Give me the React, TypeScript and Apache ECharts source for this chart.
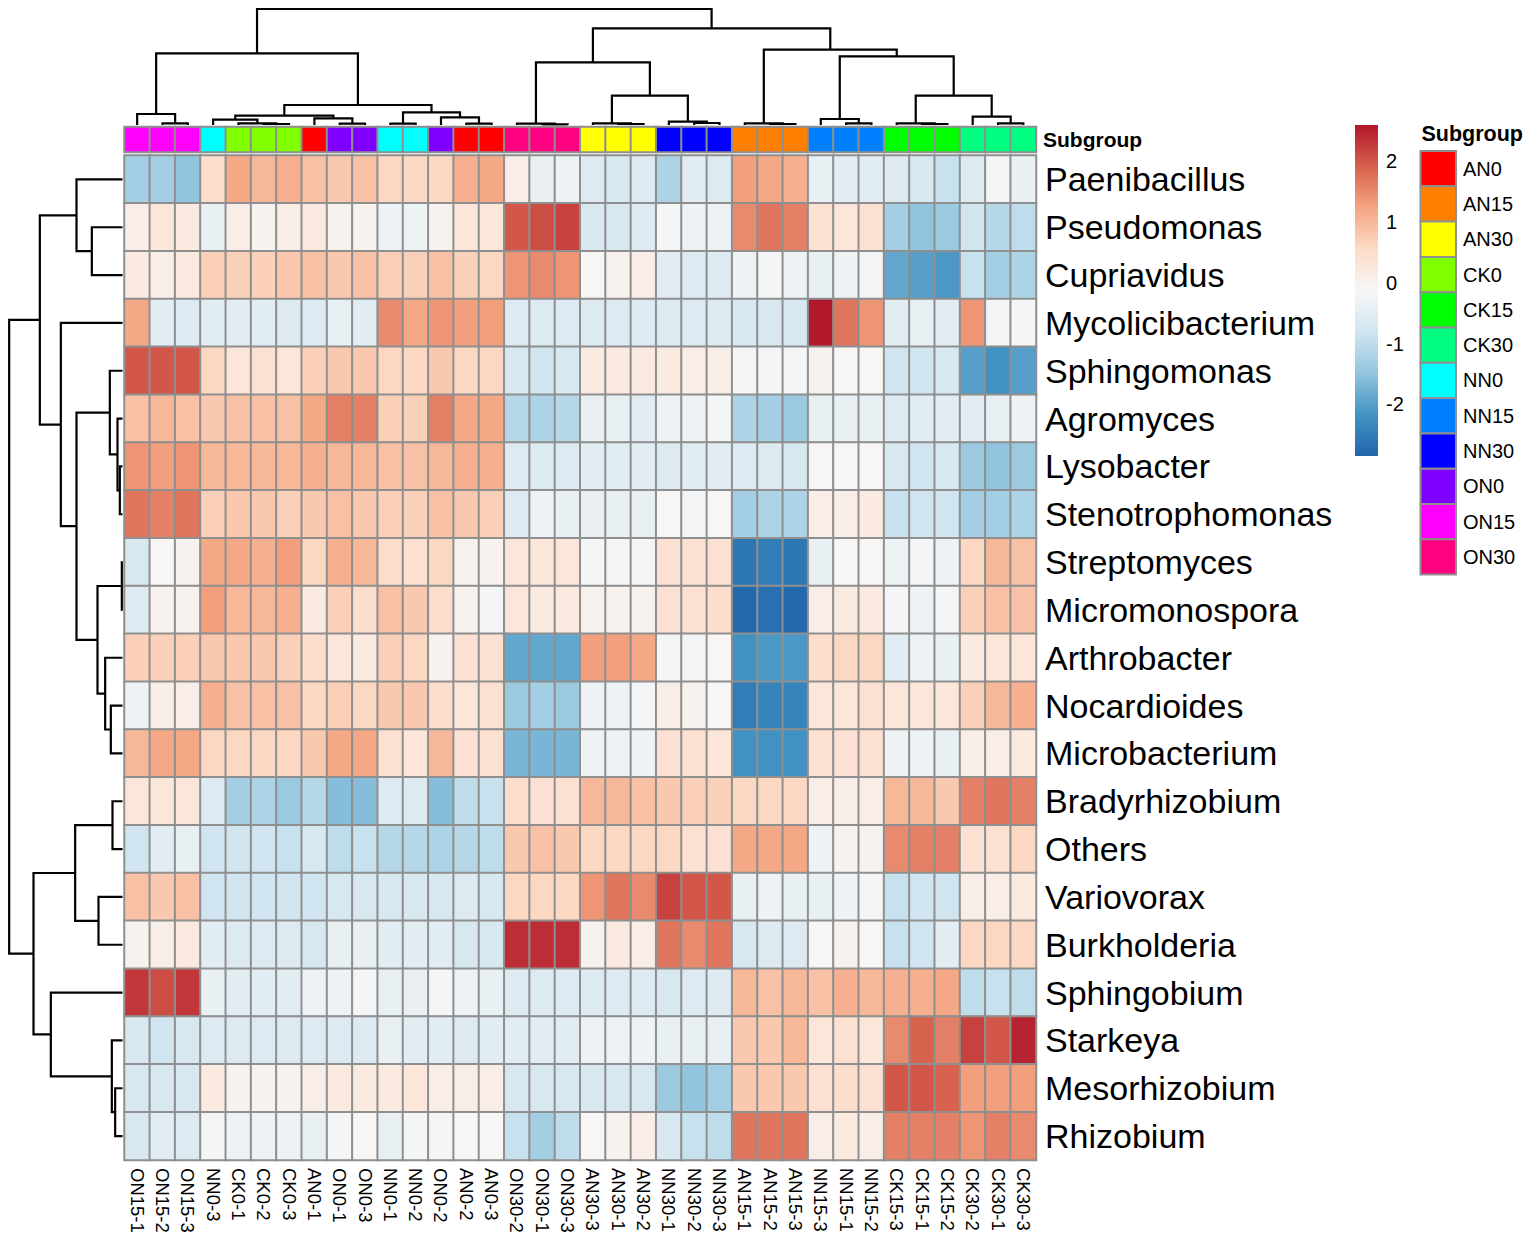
import React, { useEffect, useRef } from "react";
import * as echarts from "echarts";

// ---------- data ----------
const columns = [
  "ON15-1","ON15-2","ON15-3","NN0-3","CK0-1","CK0-2","CK0-3","AN0-1","ON0-1","ON0-3","NN0-1","NN0-2",
  "ON0-2","AN0-2","AN0-3","ON30-2","ON30-1","ON30-3","AN30-3","AN30-1","AN30-2","NN30-1","NN30-2","NN30-3",
  "AN15-1","AN15-2","AN15-3","NN15-3","NN15-1","NN15-2","CK15-3","CK15-1","CK15-2","CK30-2","CK30-1","CK30-3",
];

const taxa = [
  "Paenibacillus","Pseudomonas","Cupriavidus","Mycolicibacterium","Sphingomonas","Agromyces","Lysobacter",
  "Stenotrophomonas","Streptomyces","Micromonospora","Arthrobacter","Nocardioides","Microbacterium",
  "Bradyrhizobium","Others","Variovorax","Burkholderia","Sphingobium","Starkeya","Mesorhizobium","Rhizobium",
];

const paenibacillus = [-1.3,-1.3,-1.5,0.5,1.2,1.0,1.1,0.9,0.8,0.9,0.6,0.6, 0.6,1.1,1.2,0.1,-0.4,-0.3,-0.6,-0.7,-0.6,-1.2,-0.5,-0.6, 1.3,1.2,1.1,-0.4,-0.5,-0.5,-0.6,-0.7,-0.9,-0.6,-0.2,-0.4];
const pseudomonas = [0.1,0.3,0.2,-0.4,0.1,0.0,0.1,0.2,0.0,0.0,-0.3,-0.3, 0.0,0.3,0.3,2.0,2.1,2.2,-0.7,-0.7,-0.6,-0.2,-0.3,-0.3, 1.5,1.7,1.6,0.4,0.3,0.4,-1.3,-1.5,-1.4,-0.8,-1.1,-1.0];
const cupriavidus = [0.2,0.1,0.2,0.7,0.7,0.7,0.8,0.9,0.8,0.9,0.7,0.7, 0.9,0.7,0.6,1.4,1.5,1.4,-0.1,0.0,0.1,-0.5,-0.6,-0.6, -0.3,-0.2,-0.3,-0.4,-0.3,-0.2,-1.9,-2.0,-2.1,-0.9,-1.3,-1.2];
const mycolicibacterium = [1.2,-0.5,-0.6,-0.5,-0.5,-0.5,-0.6,-0.6,-0.4,-0.5,1.5,1.2, 1.4,1.3,1.3,-0.6,-0.6,-0.6,-0.6,-0.6,-0.6,-0.6,-0.6,-0.6, -0.7,-0.7,-0.7,2.6,1.7,1.4,-0.5,-0.4,-0.5,1.4,-0.2,-0.2];
const sphingomonas = [2.0,2.0,2.0,0.6,0.3,0.4,0.3,0.7,0.8,0.8,0.6,0.6, 0.8,0.6,0.6,-0.7,-0.8,-0.7,0.2,0.2,0.2,0.2,0.1,0.1, -0.2,-0.2,-0.2,0.0,-0.1,-0.1,-0.8,-0.8,-0.7,-2.0,-2.2,-2.0];
const agromyces = [0.9,1.0,0.9,0.8,0.9,0.9,0.9,1.2,1.6,1.6,0.7,0.7, 1.6,1.2,1.2,-1.1,-1.2,-1.1,-0.4,-0.4,-0.5,-0.3,-0.3,-0.2, -1.2,-1.3,-1.4,-0.4,-0.4,-0.4,-0.6,-0.5,-0.5,-0.5,-0.4,-0.3];
const lysobacter = [1.4,1.3,1.4,1.0,1.0,1.0,1.0,1.1,1.0,1.0,0.9,0.9, 1.0,1.1,1.1,-0.6,-0.6,-0.6,-0.5,-0.5,-0.5,-0.6,-0.5,-0.5, -0.6,-0.6,-0.7,-0.1,-0.1,-0.1,-0.7,-0.8,-0.7,-1.4,-1.5,-1.4];
const stenotrophomonas = [1.7,1.6,1.7,0.7,0.8,0.8,0.7,0.8,0.9,0.8,0.7,0.7, 0.9,0.8,0.7,-0.6,-0.3,-0.4,-0.4,-0.4,-0.4,-0.1,-0.2,-0.1, -1.3,-1.2,-1.2,0.1,0.1,0.2,-0.9,-0.8,-0.8,-1.3,-1.3,-1.2];
const streptomyces = [-0.7,-0.1,0.0,1.2,1.2,1.1,1.3,0.6,1.1,1.0,0.5,0.4, 0.6,0.0,0.0,0.3,0.3,0.3,-0.2,-0.2,-0.2,0.4,0.4,0.4, -2.6,-2.5,-2.6,-0.4,-0.1,-0.1,-0.3,-0.2,-0.3,0.6,1.0,0.9];
const micromonospora = [-0.6,0.0,0.0,1.3,1.0,1.0,1.1,0.2,0.7,0.5,0.9,0.8, 0.5,0.0,-0.2,0.3,0.2,0.2,0.0,0.0,0.0,0.4,0.4,0.5, -2.8,-2.7,-2.8,0.1,0.2,0.2,-0.2,-0.3,-0.2,0.7,0.9,0.9];
const arthrobacter = [0.7,0.7,0.7,0.8,0.8,0.8,0.7,0.5,0.3,0.2,0.7,0.6, 0.0,0.4,0.4,-1.9,-1.9,-1.9,1.3,1.3,1.2,-0.2,-0.2,-0.1, -2.2,-2.1,-2.1,0.5,0.6,0.6,-0.5,-0.3,-0.4,0.2,0.3,0.3];
const nocardioides = [-0.3,0.1,0.1,1.1,0.9,0.9,0.9,0.6,0.7,0.6,0.8,0.8, 0.5,0.3,0.4,-1.4,-1.3,-1.4,-0.3,-0.3,-0.2,0.1,0.0,-0.1, -2.5,-2.4,-2.4,0.3,0.3,0.4,0.3,0.3,0.3,0.7,1.0,1.1];
const microbacterium = [1.0,1.2,1.2,0.6,0.6,0.6,0.6,0.8,1.2,1.2,0.4,0.3, 1.0,0.4,0.4,-1.7,-1.7,-1.7,-0.3,-0.3,-0.3,0.4,0.4,0.3, -2.2,-2.2,-2.2,0.4,0.4,0.4,-0.3,-0.3,-0.4,0.1,0.1,0.2];
const bradyrhizobium = [0.3,0.3,0.3,-0.6,-1.3,-1.2,-1.4,-1.1,-1.6,-1.6,-0.6,-0.6, -1.6,-1.0,-0.9,0.5,0.4,0.4,1.0,1.0,0.9,0.8,0.7,0.7, 0.6,0.6,0.6,0.1,0.1,0.1,1.0,1.0,0.8,1.6,1.7,1.6];
const others = [-0.8,-0.5,-0.4,-0.8,-0.8,-0.8,-0.9,-0.7,-1.0,-0.9,-1.1,-1.1, -1.2,-1.1,-1.0,0.8,0.9,0.8,0.6,0.6,0.6,0.6,0.4,0.4, 1.2,1.2,1.2,-0.3,0.0,0.0,1.5,1.6,1.6,0.4,0.4,0.6];
const variovorax = [0.9,0.8,0.9,-0.8,-0.8,-0.8,-0.8,-0.8,-0.7,-0.7,-0.7,-0.7, -0.7,-0.6,-0.7,0.6,0.6,0.6,1.4,1.7,1.5,2.2,2.0,2.0, -0.4,-0.3,-0.4,-0.4,-0.3,-0.2,-0.9,-0.8,-0.8,0.1,0.1,0.2];
const burkholderia = [0.0,0.1,0.2,-0.5,-0.6,-0.6,-0.6,-0.7,-0.4,-0.4,-0.5,-0.5, -0.5,-0.7,-0.7,2.4,2.4,2.4,0.0,0.2,0.1,1.7,1.5,1.7, -0.7,-0.6,-0.6,-0.1,0.0,-0.1,-0.9,-0.8,-0.5,0.6,0.6,0.6];
const sphingobium = [2.3,2.1,2.3,-0.4,-0.5,-0.5,-0.5,-0.3,-0.3,-0.2,-0.4,-0.4, -0.2,-0.3,-0.4,-0.6,-0.6,-0.6,-0.6,-0.6,-0.6,-0.7,-0.6,-0.6, 1.0,0.9,1.0,0.9,1.1,1.0,1.1,1.1,1.2,-1.0,-0.9,-1.0];
const starkeya = [-0.7,-0.8,-0.7,-0.6,-0.6,-0.6,-0.6,-0.6,-0.6,-0.6,-0.4,-0.5, -0.5,-0.6,-0.5,-0.5,-0.5,-0.5,-0.3,-0.3,-0.3,-0.4,-0.4,-0.4, 0.8,0.8,1.0,0.3,0.4,0.3,1.5,1.9,1.6,2.2,2.0,2.5];
const mesorhizobium = [-0.7,-0.7,-0.7,0.2,0.0,0.0,0.0,0.1,0.2,0.2,0.2,0.3, 0.1,0.1,0.1,-0.7,-0.7,-0.7,-0.7,-0.7,-0.7,-1.4,-1.5,-1.3, 0.8,0.8,0.8,0.4,0.5,0.4,2.0,2.0,1.9,1.3,1.3,1.3];
const rhizobium = [-0.7,-0.5,-0.6,-0.2,-0.3,-0.3,-0.3,-0.4,-0.2,-0.1,-0.4,-0.2, -0.2,-0.1,-0.1,-0.9,-1.3,-1.0,-0.1,0.0,0.1,-0.7,-0.9,-1.0, 1.7,1.7,1.7,0.1,0.2,0.1,1.6,1.6,1.6,1.4,1.6,1.5];

const rowValues = [
  paenibacillus, pseudomonas, cupriavidus, mycolicibacterium, sphingomonas, agromyces, lysobacter,
  stenotrophomonas, streptomyces, micromonospora, arthrobacter, nocardioides, microbacterium,
  bradyrhizobium, others, variovorax, burkholderia, sphingobium, starkeya, mesorhizobium, rhizobium,
];

const subgroups = ["AN0","AN15","AN30","CK0","CK15","CK30","NN0","NN15","NN30","ON0","ON15","ON30"];
const subgroupColors = ["#FF0000","#FF8000","#FFFF00","#80FF00","#00FF00","#00FF80","#00FFFF","#0080FF","#0000FF","#8000FF","#FF00FF","#FF0080"];

const scaleMin = -2.85;
const scaleMax = 2.6;
const scaleTicks = [2, 1, 0, -1, -2];

// dendrograms: leaf = index, node = [height, left, right]
type Tree = number | [number, Tree, Tree];
const colTree: Tree = [348,
  [215,
    [33, 0, [5, 1, 2]],
    [60,
      [28, [16, 3, [5, 4, [3, 5, 6]]], [20, 7, [4, 8, 9]]],
      [38, [4, 10, 11], [23, 12, [4, 13, 14]]]]],
  [290,
    [188, [4, 15, [2, 16, 17]], [88, [5, 18, [3, 19, 20]], [10, 21, [6, 22, 23]]]],
    [226,
      [5, 24, [3, 25, 26]],
      [206, [18, 27, [5, 28, 29]], [88, [5, 30, [3, 31, 32]], [25, 33, [5, 34, 35]]]]]]];

const rowTree: Tree = [340,
  [248,
    [138, 0, [92, 1, 2]],
    [185, 3,
      [138,
        [38, 4, [15, 5, [8, 6, 7]]],
        [75, [2, 8, 9], [52, 10, [35, 11, 12]]]]]],
  [267,
    [142, [30, 13, 14], [72, 15, 16]],
    [215, 17, [32, 18, [22, 19, 20]]]]];

// ---------- style ----------
const palette = ["#2166AC","#4393C3","#92C5DE","#D1E5F0","#F7F7F7","#FDDBC7","#F4A582","#D6604D","#B2182B"];
const FONT = "Liberation Sans, Arial, Helvetica, sans-serif";
const GRID = { left: 124.5, top: 155.5, width: 911.5, height: 1004.5 };
const ANNO = { top: 127, height: 25 };
const CELL_BORDER = "#8f8f8f";
const DENDRO_SCALE = 1 / 3;

function groupOf(col: string) {
  return col.split("-")[0];
}

export default function App() {
  const ref = useRef<HTMLDivElement>(null);

  useEffect(() => {
    document.body.style.margin = "0";
    if (!ref.current) return;
    const chart = echarts.init(ref.current, null, { renderer: "svg" });

    const heatData: any[] = [];
    rowValues.forEach((row, r) => {
      row.forEach((v, c) => heatData.push([c, r, v]));
    });
    const annoData = columns.map((col, c) => [c, 0, subgroups.indexOf(groupOf(col))]);

    chart.setOption({
      animation: false,
      textStyle: { fontFamily: FONT },
      grid: [
        { left: GRID.left, top: GRID.top, width: GRID.width, height: GRID.height, containLabel: false, outerBoundsMode: "none" },
        { left: GRID.left, top: ANNO.top, width: GRID.width, height: ANNO.height, containLabel: false, outerBoundsMode: "none" },
      ],
      xAxis: [
        {
          type: "category", data: columns, gridIndex: 0, position: "bottom",
          axisLine: { show: false }, axisTick: { show: false }, splitLine: { show: false },
          axisLabel: { rotate: -90, interval: 0, fontSize: 18.5, margin: 8, color: "#000", fontFamily: FONT },
        },
        {
          type: "category", data: columns, gridIndex: 1, show: false,
        },
      ],
      yAxis: [
        {
          type: "category", data: taxa, gridIndex: 0, inverse: true, position: "right",
          axisLine: { show: false }, axisTick: { show: false }, splitLine: { show: false },
          axisLabel: { interval: 0, fontSize: 34, margin: 9, color: "#000", fontFamily: FONT },
        },
        {
          type: "category", data: ["Subgroup"], gridIndex: 1, position: "right",
          axisLine: { show: false }, axisTick: { show: false }, splitLine: { show: false },
          axisLabel: { fontSize: 21, fontWeight: "bold", margin: 7, color: "#000", fontFamily: FONT },
        },
      ],
      visualMap: [
        {
          show: false, type: "continuous", seriesIndex: 0, dimension: 2,
          min: scaleMin, max: scaleMax, inRange: { color: palette },
        },
        {
          show: false, type: "piecewise", seriesIndex: 1, dimension: 2,
          pieces: subgroups.map((g, i) => ({ value: i, label: g, color: subgroupColors[i] })),
        },
      ],
      series: [
        {
          type: "heatmap", xAxisIndex: 0, yAxisIndex: 0, data: heatData,
          itemStyle: { borderColor: CELL_BORDER, borderWidth: 2 },
          emphasis: { disabled: true },
        },
        {
          type: "heatmap", xAxisIndex: 1, yAxisIndex: 1, data: annoData,
          itemStyle: { borderColor: CELL_BORDER, borderWidth: 2 },
          emphasis: { disabled: true },
        },
      ],
    });

    // ----- dendrograms -----
    const graphics: any[] = [];
    const lineStyle = { stroke: "#000", lineWidth: 2.2, fill: null };

    function walk(node: Tree, leafPos: (i: number) => number, toPt: (p: number, h: number) => number[]): { p: number; h: number } {
      if (typeof node === "number") return { p: leafPos(node), h: 0 };
      const [h, a, b] = node;
      const A = walk(a, leafPos, toPt);
      const B = walk(b, leafPos, toPt);
      graphics.push({
        type: "polyline", silent: true,
        shape: { points: [toPt(A.p, A.h), toPt(A.p, h), toPt(B.p, h), toPt(B.p, B.h)] },
        style: lineStyle,
      });
      return { p: (A.p + B.p) / 2, h };
    }

    const colX = (i: number) => chart.convertToPixel({ xAxisIndex: 0 }, columns[i]) as number;
    const rowY = (i: number) => chart.convertToPixel({ yAxisIndex: 0 }, taxa[i]) as number;
    const topBase = ANNO.top - 2;
    const leftBase = GRID.left - 2;
    walk(colTree, colX, (p, h) => [p, topBase - h * DENDRO_SCALE]);
    walk(rowTree, rowY, (p, h) => [leftBase - h * DENDRO_SCALE, p]);

    // ----- colour scale -----
    const cb = { x: 1355, y: 125, w: 23, h: 331 };
    graphics.push({
      type: "rect", silent: true,
      shape: { x: cb.x, y: cb.y, width: cb.w, height: cb.h },
      style: {
        fill: new echarts.graphic.LinearGradient(0, 1, 0, 0,
          palette.map((c, i) => ({ offset: i / (palette.length - 1), color: c }))),
      },
    });
    scaleTicks.forEach((t) => {
      const y = cb.y + ((scaleMax - t) / (scaleMax - scaleMin)) * cb.h;
      graphics.push({
        type: "text", silent: true, x: cb.x + cb.w + 8, y,
        style: { text: String(t), fontSize: 20, fontFamily: FONT, fill: "#000", textAlign: "left", textVerticalAlign: "middle" },
      });
    });

    // ----- subgroup legend -----
    const lg = { x: 1420.5, y: 151, w: 35.5, h: 35.3 };
    graphics.push({
      type: "text", silent: true, x: lg.x + 1, y: 134,
      style: { text: "Subgroup", fontSize: 21.5, fontWeight: "bold", fontFamily: FONT, fill: "#000", textAlign: "left", textVerticalAlign: "middle" },
    });
    subgroups.forEach((g, i) => {
      graphics.push({
        type: "rect", silent: true,
        shape: { x: lg.x, y: lg.y + i * lg.h, width: lg.w, height: lg.h },
        style: { fill: subgroupColors[i], stroke: CELL_BORDER, lineWidth: 2 },
      });
      graphics.push({
        type: "text", silent: true, x: lg.x + lg.w + 7, y: lg.y + (i + 0.5) * lg.h,
        style: { text: g, fontSize: 20, fontFamily: FONT, fill: "#000", textAlign: "left", textVerticalAlign: "middle" },
      });
    });

    chart.setOption({ graphic: graphics });

    return () => chart.dispose();
  }, []);

  return <div ref={ref} style={{ width: 1535, height: 1244 }} />;
}
